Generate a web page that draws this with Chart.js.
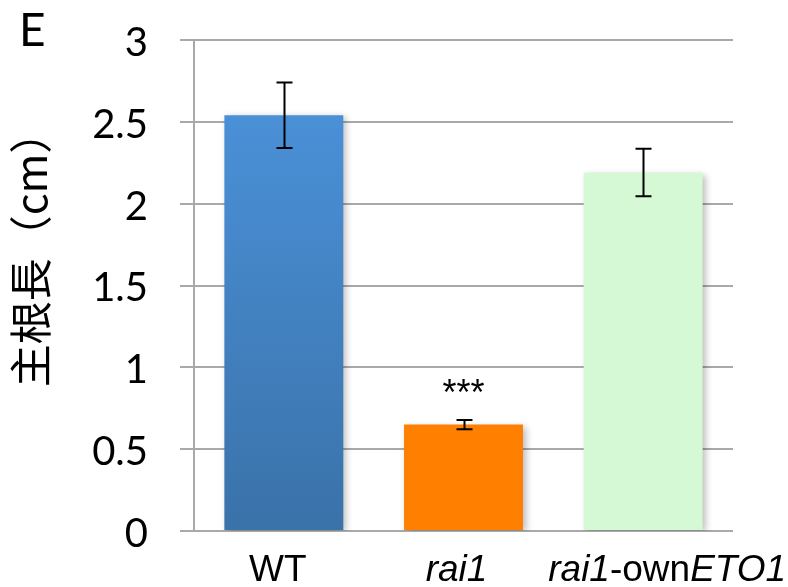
<!DOCTYPE html>
<html>
<head>
<meta charset="utf-8">
<script src="https://cdn.jsdelivr.net/npm/chart.js@4/dist/chart.umd.min.js"></script>
<style>
  html, body { margin: 0; padding: 0; background: #ffffff; }
  #wrap { width: 788px; height: 587px; }
</style>
</head>
<body>
<div id="wrap"><canvas id="c" width="788" height="587"></canvas></div>
<script>
// Primary root length per line
const categories = ['WT', 'rai1', 'rai1-ownETO1'];
// label pieces: [text, italic]
const labelParts = [
  [['WT', false]],
  [['rai1', true]],
  [['rai1', true], ['-own', false], ['ETO1', true]]
];
const rootLength = [2.54, 0.65, 2.19];
const rootLengthErr = [0.20, 0.028, 0.145];
const significance = ['', '***', ''];
const yMin = 0, yMax = 3, yStep = 0.5;
const yTitle = '主根長（cm）';
const panelLetter = 'E';

const GRID = '#a9a9a9';
const LABEL_FONT = '"Liberation Sans", Arial, sans-serif';
// horizontal nudge of each category label from its bar centre
const labelShift = [-6, -7, 24];

function wtGradient(ctx) {
  const chart = ctx.chart;
  const area = chart.chartArea;
  if (!area) return '#4a8fd5';
  const y = chart.scales.y;
  const top = y.getPixelForValue(rootLength[0]);
  const g = chart.ctx.createLinearGradient(0, top, 0, area.bottom);
  g.addColorStop(0, '#4a90d7');
  g.addColorStop(1, '#3a72a9');
  return g;
}

const barShadow = {
  id: 'barShadow',
  beforeDatasetDraw(chart) {
    const c = chart.ctx;
    c.save();
    c.shadowColor = 'rgba(0,0,0,0.28)';
    c.shadowBlur = 7;
    c.shadowOffsetX = 3;
    c.shadowOffsetY = 2;
  },
  afterDatasetDraw(chart) {
    chart.ctx.restore();
  }
};

const annotations = {
  id: 'annotations',
  afterDatasetsDraw(chart) {
    const c = chart.ctx;
    const y = chart.scales.y;
    const x = chart.scales.x;
    const meta = chart.getDatasetMeta(0);
    c.save();
    // error bars
    c.strokeStyle = '#000000';
    c.lineWidth = 2;
    meta.data.forEach((bar, i) => {
      const cx = Math.round(bar.x) + 0.5;
      const hi = y.getPixelForValue(rootLength[i] + rootLengthErr[i]);
      const lo = y.getPixelForValue(rootLength[i] - rootLengthErr[i]);
      const cap = 8;
      c.beginPath();
      c.moveTo(cx, hi); c.lineTo(cx, lo);
      c.moveTo(cx - cap, hi); c.lineTo(cx + cap, hi);
      c.moveTo(cx - cap, lo); c.lineTo(cx + cap, lo);
      c.stroke();
      if (significance[i]) {
        c.fillStyle = '#000000';
        c.font = '36px ' + LABEL_FONT;
        c.textAlign = 'center';
        c.textBaseline = 'alphabetic';
        c.fillText(significance[i], bar.x, hi - 15);
      }
    });
    // category labels with mixed italics
    c.fillStyle = '#000000';
    c.textBaseline = 'alphabetic';
    c.textAlign = 'left';
    categories.forEach((cat, i) => {
      const cx = x.getPixelForValue(i) + labelShift[i];
      const parts = labelParts[i];
      let total = 0;
      const widths = parts.map(([t, it]) => {
        c.font = (it ? 'italic ' : '') + '37px ' + LABEL_FONT;
        const w = c.measureText(t).width;
        total += w;
        return w;
      });
      let px = cx - total / 2;
      parts.forEach(([t, it], k) => {
        c.font = (it ? 'italic ' : '') + '37px ' + LABEL_FONT;
        c.fillText(t, px, 581);
        px += widths[k];
      });
    });
    // y axis title
    c.save();
    c.translate(31, 249);
    c.rotate(-Math.PI / 2);
    c.font = '43px "Noto Sans CJK JP", sans-serif';
    c.textAlign = 'center';
    c.textBaseline = 'middle';
    c.fillText(yTitle, 0, 0);
    c.restore();
    // panel letter
    c.font = '46px Lato, sans-serif';
    c.textAlign = 'left';
    c.textBaseline = 'alphabetic';
    c.fillText(panelLetter, 19, 46);
    c.restore();
  }
};

new Chart(document.getElementById('c'), {
  type: 'bar',
  data: {
    labels: categories,
    datasets: [{
      data: rootLength,
      backgroundColor: (ctx) => {
        if (ctx.dataIndex === 0) return wtGradient(ctx);
        return ['#4a8fd5', '#ff7f00', '#d4f9d4'][ctx.dataIndex];
      },
      borderWidth: 0,
      barPercentage: 0.662,
      categoryPercentage: 1.0
    }]
  },
  options: {
    responsive: false,
    devicePixelRatio: 1,
    animation: false,
    layout: { padding: { top: 40, right: 55, left: 0, bottom: 0 } },
    plugins: { legend: { display: false }, tooltip: { enabled: false } },
    scales: {
      x: {
        grid: { display: false },
        border: { display: false },
        ticks: { display: false },
        afterFit(s) { s.height = 56; }
      },
      y: {
        min: yMin,
        max: yMax,
        ticks: {
          stepSize: yStep,
          padding: 32,
          labelOffset: 3,
          color: '#000000',
          font: { family: 'Lato', size: 40 },
          callback: (v) => String(Number(v))
        },
        grid: { color: GRID, lineWidth: 2, tickLength: 14 },
        border: { color: GRID, width: 2 },
        afterFit(s) {
          s.width = 194;
          s.paddingTop = 0;
          s.paddingBottom = 0;
        }
      }
    }
  },
  plugins: [barShadow, annotations]
});
</script>
</body>
</html>
